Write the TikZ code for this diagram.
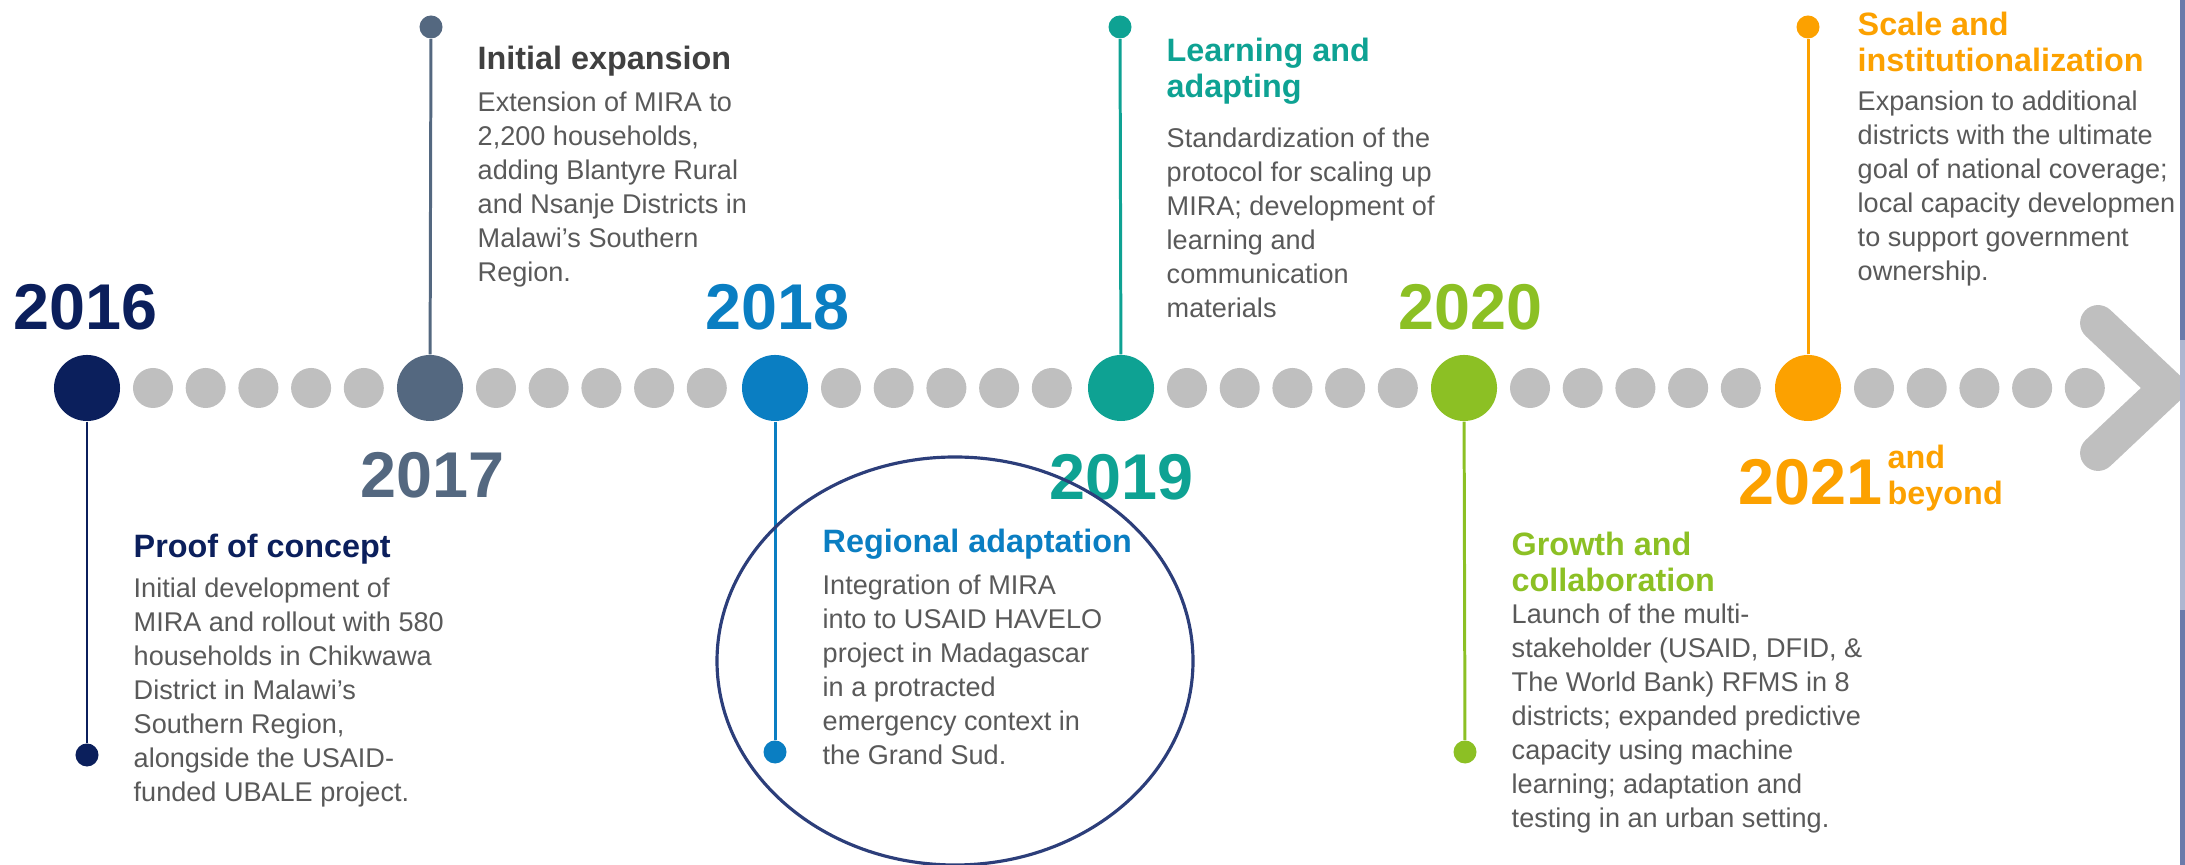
\documentclass[tikz,border=0pt]{standalone}
\usepackage{fontspec}
\setmainfont{Liberation Sans}
\definecolor{navy}{HTML}{0B1F5C}
\definecolor{slate}{HTML}{546880}
\definecolor{sky}{HTML}{0A7EC2}
\definecolor{teal}{HTML}{0EA293}
\definecolor{lime}{HTML}{8CC024}
\definecolor{amber}{HTML}{FCA100}
\definecolor{dotgray}{HTML}{BFBFBF}
\definecolor{bodygray}{HTML}{595959}
\definecolor{headgray}{HTML}{404040}
\definecolor{ringblue}{HTML}{2C3E7A}
\definecolor{stripblue}{HTML}{6B7AAA}

\begin{document}
\begin{tikzpicture}[x=0.01cm,y=-0.01cm,
  bigdot/.style={circle,fill=#1,minimum size=0.66cm,inner sep=0pt},
  smalldot/.style={circle,fill=dotgray,minimum size=0.4cm,inner sep=0pt},
  enddot/.style={circle,fill=#1,minimum size=0.23cm,inner sep=0pt},
  stem/.style={draw=#1,line width=0.85pt},
  year/.style={text=#1,font=\bfseries\fontsize{18.4}{20}\selectfont,anchor=base west,inner sep=0pt},
  head/.style={text=#1,font=\bfseries\fontsize{9.2}{10.24}\selectfont,anchor=base west,inner sep=0pt,align=left},
  body/.style={text=bodygray,font=\fontsize{7.7}{9.67}\selectfont,anchor=base west,inner sep=0pt,align=left}]
\useasboundingbox (0,0) rectangle (2185,865);

% timeline dots (text nodes are placed by the baseline of their last line)
\foreach \cx/\n in {87/a,430/b,775/c,1121/d,1464/e,1808/f}
  \foreach \k in {0,...,4}
    \node[smalldot] (g\n\k) at (\cx+66+52.7*\k,388) {};
\draw[dotgray,line width=10.2pt,line cap=round,line join=round]
  (2098,323) -- (2167,388) -- (2098,453);

% milestones
\node[bigdot=navy]  (c16) at (87,388) {};
\node[bigdot=slate] (c17) at (430,388) {};
\node[bigdot=sky]   (c18) at (775,388) {};
\node[bigdot=teal]  (c19) at (1121,388) {};
\node[bigdot=lime]  (c20) at (1464,388) {};
\node[bigdot=amber] (c21) at (1808,388) {};

\node[enddot=navy]  (d16) at (87,755) {};
\node[enddot=slate] (d17) at (431,27) {};
\node[enddot=sky]   (d18) at (775,752) {};
\node[enddot=teal]  (d19) at (1120,27) {};
\node[enddot=lime]  (d20) at (1465,752) {};
\node[enddot=amber] (d21) at (1808,27) {};

\draw[stem=navy]  (c16) -- (d16);
\draw[stem=slate] (c17) -- (d17);
\draw[stem=sky]   (c18) -- (d18);
\draw[stem=teal]  (c19) -- (d19);
\draw[stem=lime]  (c20) -- (d20);
\draw[stem=amber] (c21) -- (d21);

% years
\node[year=navy]  (y16) at (13,330) {2016};
\node[year=slate] (y17) at (360,498) {2017};
\node[year=sky]   (y18) at (705,330) {2018};
\node[year=teal]  (y19) at (1049,500) {2019};
\node[year=lime]  (y20) at (1398,330) {2020};
\node[year=amber] (y21) at (1738,505) {2021};
\node[head=amber] (y21b) at (1887,505) {and\\beyond};

% texts
\node[head=navy] (h16) at (133,558) {Proof of concept};
\node[body] (t16) at (133,802) {Initial development of\\MIRA and rollout with 580\\households in Chikwawa\\District in Malawi’s\\Southern Region,\\alongside the USAID-\\funded UBALE project.};

\node[head=headgray] (h17) at (477,70) {Initial expansion};
\node[body] (t17) at (477,282) {Extension of MIRA to\\2,200 households,\\adding Blantyre Rural\\and Nsanje Districts in\\Malawi’s Southern\\Region.};

\node[head=sky] (h18) at (822,553) {Regional adaptation};
\node[body] (t18) at (822,765) {Integration of MIRA\\into to USAID HAVELO\\project in Madagascar\\in a protracted\\emergency context in\\the Grand Sud.};

\node[head=teal] (h19) at (1166,98) {Learning and\\adapting};
\node[body] (t19) at (1166,318) {Standardization of the\\protocol for scaling up\\MIRA; development of\\learning and\\communication\\materials};

\node[head=lime] (h20) at (1511,592) {Growth and\\collaboration};
\node[body] (t20) at (1511,828) {Launch of the multi-\\stakeholder (USAID, DFID, \&\\The World Bank) RFMS in 8\\districts; expanded predictive\\capacity using machine\\learning; adaptation and\\testing in an urban setting.};

\node[head=amber] (h21) at (1857,72) {Scale and\\institutionalization};
\node[body] (t21) at (1857,281) {Expansion to additional\\districts with the ultimate\\goal of national coverage;\\local capacity developmen\\to support government\\ownership.};

% highlight ring
\draw[ringblue,line width=0.9pt] (955,661) ellipse [x radius=238,y radius=204];

% slide edge
\fill[stripblue] (2180,0) rectangle (2185,865);
\fill[stripblue!55] (2180,340) rectangle (2185,610);
\end{tikzpicture}
\end{document}
